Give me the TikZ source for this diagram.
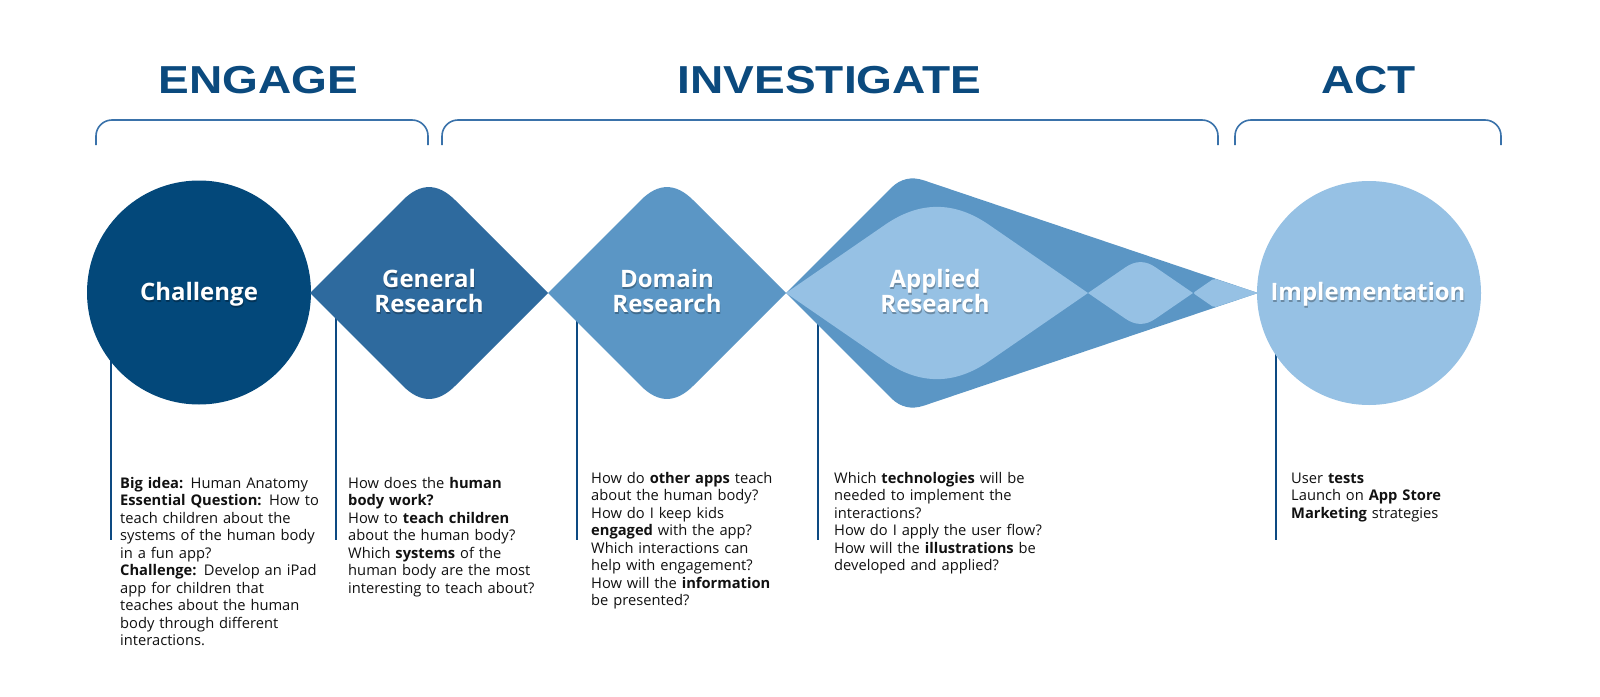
\documentclass[tikz,border=0pt]{standalone}
\usepackage{fontspec}
\setmainfont{Open Sans}
\newfontfamily\headfont[FakeStretch=1.18]{Liberation Sans}
\usetikzlibrary{calc}
\definecolor{chalc}{HTML}{03487A}
\definecolor{genc}{HTML}{2E6A9E}
\definecolor{domc}{HTML}{5B96C5}
\definecolor{lightc}{HTML}{96C1E4}
\definecolor{headc}{HTML}{0B4A7E}
\definecolor{brkc}{HTML}{3A72AA}
\definecolor{stemc}{HTML}{0D4A82}
\definecolor{txtc}{HTML}{111111}
\begin{document}
\begin{tikzpicture}[x=1pt,y=-1pt,
  hdr/.style={font=\headfont\bfseries\fontsize{39}{39}\selectfont, text=headc, inner sep=0pt, anchor=base},
  brk/.style={draw=brkc, line width=1.6pt, rounded corners=16pt},
  stemline/.style={draw=stemc, line width=2.2pt},
  body/.style={font=\fontsize{14.7}{17.5}\selectfont, text=txtc, inner sep=0pt, anchor=north west, text width=260pt, align=left},
  lbl/.style={font=\bfseries\fontsize{24}{25}\selectfont, text=white, inner sep=0pt, anchor=north, text width=240pt, align=center},
  lblshadow/.style={lbl, text=black, opacity=0.28},
  disc/.style={circle, inner sep=0pt, minimum size=224pt}
]
\useasboundingbox (0,0) rectangle (1600,696);
\fill[white] (0,0) rectangle (1600,696);

% headers
\node[hdr] (hEngage) at (258.5,93) {ENGAGE};
\node[hdr] (hInvest) at (829.5,93) {INVESTIGATE};
\node[hdr] (hAct) at (1368.5,93) {ACT};

% brackets
\coordinate (b1a) at (96,145); \coordinate (b1b) at (96,120);
\coordinate (b1c) at (428,120); \coordinate (b1d) at (428,145);
\coordinate (b2a) at (442,145); \coordinate (b2b) at (442,120);
\coordinate (b2c) at (1218,120); \coordinate (b2d) at (1218,145);
\coordinate (b3a) at (1235,145); \coordinate (b3b) at (1235,120);
\coordinate (b3c) at (1501,120); \coordinate (b3d) at (1501,145);
\draw[brk] (b1a) -- (b1b) -- (b1c) -- (b1d);
\draw[brk] (b2a) -- (b2b) -- (b2c) -- (b2d);
\draw[brk] (b3a) -- (b3b) -- (b3c) -- (b3d);

% stems (drawn below shapes)
\coordinate (s1t) at (111,300); \coordinate (s1b) at (111,540);
\coordinate (s2t) at (336,300); \coordinate (s2b) at (336,540);
\coordinate (s3t) at (577,300); \coordinate (s3b) at (577,540);
\coordinate (s4t) at (818,300); \coordinate (s4b) at (818,540);
\coordinate (s5t) at (1276,300); \coordinate (s5b) at (1276,540);
\draw[stemline] (s1t) -- (s1b);
\draw[stemline] (s2t) -- (s2b);
\draw[stemline] (s3t) -- (s3b);
\draw[stemline] (s4t) -- (s4b);
\draw[stemline] (s5t) -- (s5b);

% challenge circle
\node[disc, fill=chalc] (chal) at (199,292.5) {};

% general diamond
\coordinate (gL) at (310,293); \coordinate (gT) at (429,174);
\coordinate (gR) at (548,293); \coordinate (gB) at (429,412);
\fill[genc] (gL) -- ($(gT)!37pt!(gL)$) .. controls ($(gT)!12.3pt!(gL)$) and ($(gT)!12.3pt!(gR)$) .. ($(gT)!37pt!(gR)$)
  -- (gR) -- ($(gB)!37pt!(gR)$) .. controls ($(gB)!12.3pt!(gR)$) and ($(gB)!12.3pt!(gL)$) .. ($(gB)!37pt!(gL)$) -- cycle;

% domain diamond
\coordinate (dL) at (548,293); \coordinate (dT) at (667,174);
\coordinate (dR) at (786,293); \coordinate (dB) at (667,412);
\fill[domc] (dL) -- ($(dT)!37pt!(dL)$) .. controls ($(dT)!12.3pt!(dL)$) and ($(dT)!12.3pt!(dR)$) .. ($(dT)!37pt!(dR)$)
  -- (dR) -- ($(dB)!37pt!(dR)$) .. controls ($(dB)!12.3pt!(dR)$) and ($(dB)!12.3pt!(dL)$) .. ($(dB)!37pt!(dL)$) -- cycle;

% applied outer shape
\coordinate (aL) at (786,293); \coordinate (aT) at (905,174);
\coordinate (aR) at (1258,293); \coordinate (aB) at (905,412);
\fill[domc] (aL) -- ($(aT)!20pt!(aL)$) .. controls ($(aT)!6.7pt!(aL)$) and ($(aT)!6.7pt!(aR)$) .. ($(aT)!20pt!(aR)$)
  -- (aR) -- ($(aB)!20pt!(aR)$) .. controls ($(aB)!6.7pt!(aR)$) and ($(aB)!6.7pt!(aL)$) .. ($(aB)!20pt!(aL)$) -- cycle;

% inner lens 1
\coordinate (iL) at (786,293); \coordinate (iT) at (937,189);
\coordinate (iR) at (1088,293); \coordinate (iB) at (937,397);
\fill[lightc] (iL) -- ($(iT)!63pt!(iL)$) .. controls ($(iT)!21pt!(iL)$) and ($(iT)!21pt!(iR)$) .. ($(iT)!63pt!(iR)$)
  -- (iR) -- ($(iB)!63pt!(iR)$) .. controls ($(iB)!21pt!(iR)$) and ($(iB)!21pt!(iL)$) .. ($(iB)!63pt!(iL)$) -- cycle;

% lens 2
\coordinate (jL) at (1088,293); \coordinate (jT) at (1140.5,257);
\coordinate (jR) at (1193,293); \coordinate (jB) at (1140.5,329);
\fill[lightc] (jL) -- ($(jT)!18pt!(jL)$) .. controls ($(jT)!6pt!(jL)$) and ($(jT)!6pt!(jR)$) .. ($(jT)!18pt!(jR)$)
  -- (jR) -- ($(jB)!18pt!(jR)$) .. controls ($(jB)!6pt!(jR)$) and ($(jB)!6pt!(jL)$) .. ($(jB)!18pt!(jL)$) -- cycle;

% lens 3
\coordinate (kL) at (1193,293); \coordinate (kT) at (1214,278.5);
\coordinate (kR) at (1258,293); \coordinate (kB) at (1214,307.5);
\fill[lightc, rounded corners=2pt] (kL) -- (kT) -- (kR) -- (kB) -- cycle;

% implementation circle
\node[disc, fill=lightc] (impl) at (1369,293) {};

% labels
\node[lblshadow] (chalS) at (199.6,283) {\rule{0pt}{19pt}Challenge};
\node[lbl] (chalL) at (199,281) {\rule{0pt}{19pt}Challenge};
\node[lblshadow] (genS) at (429.6,270) {\rule{0pt}{19pt}General\\Research};
\node[lbl] (genL) at (429,268) {\rule{0pt}{19pt}General\\Research};
\node[lblshadow] (domS) at (667.6,270) {\rule{0pt}{19pt}Domain\\Research};
\node[lbl] (domL) at (667,268) {\rule{0pt}{19pt}Domain\\Research};
\node[lblshadow] (appS) at (935.6,270) {\rule{0pt}{19pt}Applied\\Research};
\node[lbl] (appL) at (935,268) {\rule{0pt}{19pt}Applied\\Research};
\node[lblshadow] (implS) at (1368.6,283) {\rule{0pt}{19pt}Implementation};
\node[lbl] (implL) at (1368,281) {\rule{0pt}{19pt}Implementation};

% body texts
\node[body] (tChal) at (120,476) {\rule{0pt}{12pt}\textbf{Big idea:} Human Anatomy\\
\textbf{Essential Question:} How to\\
teach children about the\\
systems of the human body\\
in a fun app?\\
\textbf{Challenge:} Develop an iPad\\
app for children that\\
teaches about the human\\
body through different\\
interactions.};

\node[body] (tGen) at (348,476) {\rule{0pt}{12pt}How does the \textbf{human}\\
\textbf{body work?}\\
How to \textbf{teach children}\\
about the human body?\\
Which \textbf{systems} of the\\
human body are the most\\
interesting to teach about?};

\node[body] (tDom) at (591,471) {\rule{0pt}{12pt}How do \textbf{other apps} teach\\
about the human body?\\
How do I keep kids\\
\textbf{engaged} with the app?\\
Which interactions can\\
help with engagement?\\
How will the \textbf{information}\\
be presented?};

\node[body] (tApp) at (834,471) {\rule{0pt}{12pt}Which \textbf{technologies} will be\\
needed to implement the\\
interactions?\\
How do I apply the user flow?\\
How will the \textbf{illustrations} be\\
developed and applied?};

\node[body] (tImpl) at (1291,471) {\rule{0pt}{12pt}User \textbf{tests}\\
Launch on \textbf{App Store}\\
\textbf{Marketing} strategies};
\end{tikzpicture}
\end{document}
